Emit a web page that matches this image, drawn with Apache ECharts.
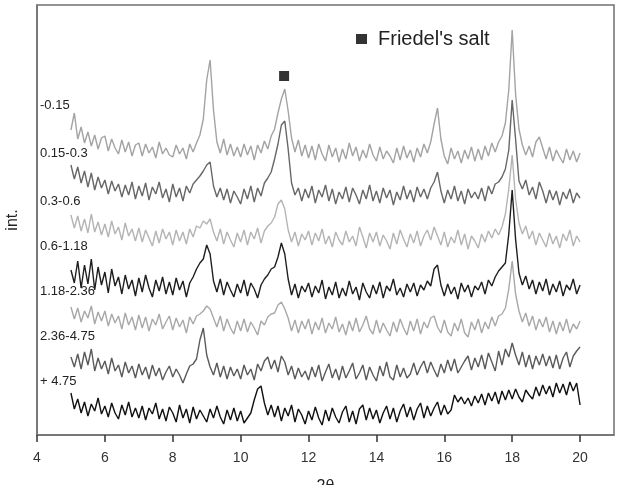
<!DOCTYPE html>
<html>
<head>
<meta charset="utf-8">
<script src="https://cdn.jsdelivr.net/npm/echarts@6/dist/echarts.min.js"></script>
<style>
  html, body { margin: 0; padding: 0; background: #fff; }
  #xrdContainer { width: 622px; height: 485px; }
</style>
</head>
<body>
<div id="xrdContainer"></div>
<script>
// 2θ grid of the scans: 5.0 .. 20.0, step 0.1
var thetaStart = 5.0;
var thetaStep = 0.1;

var sampleNames = ['-0.15', '0.15-0.3', '0.3-0.6', '0.6-1.18', '1.18-2.36', '2.36-4.75', '+ 4.75'];
var lineColors = ['#a3a3a3', '#676767', '#b4b4b4', '#1e1e1e', '#a8a8a8', '#5a5a5a', '#111111'];
var xTicks = [4, 6, 8, 10, 12, 14, 16, 18, 20];

// intensities, already offset (stacked) as in the figure
var scan_015 = [
  305, 322, 296, 308, 292, 303, 289, 300, 286, 297,
  299, 284, 296, 287, 281, 295, 283, 293, 279, 290,
  292, 279, 291, 282, 288, 277, 293, 281, 287, 280,
  278, 290, 281, 287, 276, 291, 283, 292, 300, 316,
  355, 375, 325, 293, 282, 296, 280, 291, 279, 288,
  278, 291, 280, 289, 275, 290, 282, 294, 286, 299,
  306, 322, 336, 346, 324, 297, 283, 295, 279, 290,
  277, 289, 275, 291, 281, 274, 290, 278, 287, 273,
  286, 276, 292, 279, 288, 274, 285, 277, 291, 280,
  274, 288, 276, 284, 279, 272, 287, 275, 289, 277,
  285, 273, 287, 278, 291, 282, 293, 311, 327, 296,
  279, 271, 287, 276, 284, 272, 285, 276, 288, 274,
  286, 275, 289, 279, 292, 283, 293, 299, 312, 345,
  405, 341, 306, 290, 280, 289, 278, 293, 298, 287,
  276, 288, 274, 285, 278, 272, 286, 275, 284, 273,
  282
];
var scan_015_03 = [
  270, 256, 268, 252, 264, 248, 262, 245, 258, 247,
  255, 241, 254, 244, 251, 238, 250, 240, 253, 236,
  249, 239, 252, 235, 248, 241, 253, 237, 246, 233,
  251, 238, 247, 234, 249, 242, 251, 255, 259, 264,
  270, 273, 249, 238, 247, 235, 246, 232, 244, 238,
  231, 246, 236, 249, 233, 247, 239, 252, 257, 263,
  276, 291, 310, 314, 286, 252, 240, 247, 234, 246,
  237, 249, 232, 245, 238, 250, 234, 246, 231, 243,
  236, 248, 233, 247, 240, 231, 245, 236, 250, 234,
  244, 232, 247, 237, 245, 230, 243, 235, 249, 236,
  245, 233, 248, 238, 246, 236, 247, 253, 263, 244,
  232, 245, 236, 249, 234, 244, 231, 246, 237, 243,
  236, 247, 234, 249, 241, 251, 253, 258, 266, 285,
  335, 296, 254, 246, 255, 240, 248, 236, 253, 244,
  232, 245, 235, 244, 230, 243, 236, 246, 232, 242,
  237
];
var scan_03_06 = [
  220, 207, 219, 204, 216, 202, 221, 203, 213, 200,
  211, 198, 214, 201, 208, 195, 212, 199, 206, 194,
  207, 193, 205, 197, 189, 204, 192, 206, 196, 203,
  190, 205, 194, 203, 191, 206, 198, 209, 207, 214,
  211, 216, 203, 194, 206, 191, 203, 195, 188, 202,
  193, 205, 190, 203, 196, 207, 192, 204, 209, 212,
  218, 231, 235, 226, 205, 193, 203, 189, 201, 195,
  204, 190, 202, 194, 206, 191, 199, 188, 203, 195,
  190, 204, 193, 199, 189, 208, 198, 187, 202, 193,
  203, 189, 200, 194, 186, 202, 191, 205, 196, 188,
  201, 192, 204, 189, 199, 205, 195, 208, 199, 190,
  203, 188, 198, 192, 205, 190, 201, 186, 199, 194,
  187, 201, 193, 204, 197, 206, 200, 208, 221, 246,
  280, 236, 212, 201, 209, 196, 204, 190, 202, 195,
  188, 202, 191, 199, 187, 201, 194, 205, 189, 199,
  193
];
var scan_06_118 = [
  165, 152, 174, 147, 170, 151, 176, 145, 168, 150,
  163, 142, 166, 149, 158, 141, 160, 146, 155, 139,
  157, 143, 160, 147, 138, 155, 144, 158, 141, 153,
  140, 157, 145, 154, 138, 152, 158, 166, 172, 176,
  190, 181, 154, 143, 156, 140, 153, 145, 138, 151,
  142, 155, 139, 152, 146, 137, 150, 156, 160, 166,
  168, 178, 192, 181, 156, 140, 151, 137, 149, 143,
  152, 138, 149, 142, 155, 136, 148, 140, 153, 137,
  147, 139, 154, 141, 148, 135, 152, 143, 137, 150,
  141, 153, 137, 149, 144, 156, 140, 147, 138, 151,
  143, 152, 139, 150, 145, 154, 149, 166, 170, 150,
  139, 151, 141, 148, 136, 152, 143, 150, 138, 149,
  145, 153, 141, 155, 149, 158, 164, 168, 172, 201,
  245, 196, 162, 150, 159, 146, 155, 141, 153, 144,
  156, 140, 151, 143, 154, 139, 150, 145, 156, 141,
  150
];
var scan_118_236 = [
  128, 116, 127, 113, 124, 117, 129, 111, 123, 114,
  124, 109, 121, 112, 119, 106, 122, 110, 118, 105,
  120, 107, 118, 104, 116, 110, 121, 106, 113, 119,
  105, 117, 108, 115, 102, 118, 111, 119, 121, 124,
  129, 126, 117, 108, 119, 104, 116, 107, 101, 114,
  104, 116, 103, 113, 107, 100, 114, 110, 118, 121,
  122, 130, 133, 126, 117, 104, 115, 102, 114, 106,
  116, 101, 113, 105, 117, 102, 112, 106, 118, 103,
  111, 100, 114, 104, 117, 103, 110, 119, 106, 101,
  115, 102, 112, 105, 99, 113, 103, 116, 107, 100,
  114, 104, 116, 101, 113, 107, 117, 119, 108, 102,
  115, 103, 99, 112, 104, 116, 102, 98, 113, 105,
  116, 102, 113, 106, 118, 109, 119, 121, 127, 146,
  174, 141, 124, 113, 122, 109, 119, 105, 116, 108,
  118, 103, 114, 101, 113, 104, 116, 102, 111, 106,
  114
];
var scan_236_475 = [
  78, 68, 81, 66, 83, 70, 86, 64, 77, 66,
  74, 61, 77, 64, 70, 58, 73, 62, 69, 57,
  71, 60, 68, 56, 70, 59, 67, 55, 63, 69,
  58, 66, 60, 52, 61, 69, 71, 76, 95, 107,
  80, 68, 60, 72, 58, 69, 56, 68, 59, 66,
  56, 70, 60, 66, 55, 71, 64, 74, 78, 66,
  75, 63, 79, 73, 60, 69, 56, 67, 58, 64,
  55, 68, 58, 70, 54, 63, 71, 57, 66, 55,
  69, 57, 64, 72, 56, 62, 70, 55, 68, 60,
  54, 69, 59, 73, 58, 55, 70, 58, 67, 57,
  61, 72, 60, 68, 74, 62, 73, 65, 58, 71,
  62, 75, 64, 76, 62, 68, 74, 79, 65, 77,
  68, 80, 66, 82, 73, 64, 84, 70, 86, 78,
  92, 80, 70, 83, 68, 80, 66, 79, 70, 81,
  69, 79, 67, 80, 66, 77, 83, 68, 79, 84,
  88
];
var scan_475 = [
  42, 26, 36, 22, 33, 19, 31, 24, 37, 21,
  29, 18, 32, 22, 16, 30, 20, 33, 18, 27,
  17, 29, 15, 27, 21, 32, 16, 26, 14, 28,
  22, 13, 30, 17, 26, 12, 28, 16, 25, 19,
  13, 26, 17, 29, 18, 11, 25, 15, 27, 14,
  24, 12, 17, 22, 35, 46, 49, 32, 20, 30,
  18, 29, 14, 27, 19, 30, 13, 26, 20, 11,
  24, 15, 28, 17, 10, 25, 14, 27, 18, 12,
  23, 29, 13, 24, 11, 26, 30, 15, 27, 16,
  25, 12, 22, 29, 16, 27, 13, 24, 31, 18,
  28, 15, 26, 32, 17, 29, 19, 27, 33, 20,
  30, 21, 25, 40, 33, 38, 31, 37, 29, 39,
  32, 41, 30, 42, 34, 43, 31, 44, 35, 45,
  36, 46, 38, 33, 45, 40, 36, 48, 39, 50,
  41, 49, 38, 52, 42, 51, 40, 53, 44, 52,
  30
];

// Friedel's salt reflection marker
var friedelMark = [[11.28, 359]];

var allScans = [scan_015, scan_015_03, scan_03_06, scan_06_118, scan_118_236, scan_236_475, scan_475];

function toPairs(arr) {
    var out = [];
    for (var i = 0; i < arr.length; i++) {
        out.push([+(thetaStart + i * thetaStep).toFixed(1), arr[i]]);
    }
    return out;
}

var xrdChart = echarts.init(document.getElementById('xrdContainer'), null, { renderer: 'canvas' });

var seriesList = [];
for (var s = 0; s < allScans.length; s++) {
    seriesList.push({
        name: sampleNames[s],
        type: 'line',
        data: toPairs(allScans[s]),
        showSymbol: false,
        symbol: 'none',
        lineStyle: { color: lineColors[s], width: 1.4 },
        z: 2 + s,
        silent: true
    });
}
seriesList.push({
    name: "Friedel's salt",
    type: 'scatter',
    data: friedelMark,
    symbol: 'rect',
    symbolSize: 10,
    itemStyle: { color: '#000' },
    z: 10
});

// sample labels at the left of each pattern (pixel y of label centre)
var labelY = [107, 155, 203, 248, 293, 338, 383];
var labelGraphics = [];
for (var k = 0; k < sampleNames.length; k++) {
    labelGraphics.push({
        type: 'text',
        left: 40,
        top: labelY[k] - 8,
        style: {
            text: sampleNames[k],
            fill: '#222',
            font: '13px "Liberation Sans", Arial, sans-serif'
        }
    });
}

var option = {
    animation: false,
    textStyle: { fontFamily: '"Liberation Sans", Arial, sans-serif' },
    grid: {
        left: 37, right: 8, top: 5, bottom: 50,
        outerBoundsMode: 'none',
        containLabel: false,
        show: true,
        borderColor: '#707070',
        borderWidth: 1.5
    },
    legend: {
        data: ["Friedel's salt"],
        left: 351,
        top: 24,
        itemWidth: 11,
        itemHeight: 10,
        icon: 'rect',
        textStyle: { fontSize: 20, color: '#222', padding: [0, 0, 0, 6] }
    },
    xAxis: {
        type: 'value',
        min: 4,
        max: 21,
        interval: 2,
        name: '2θ',
        nameLocation: 'middle',
        nameGap: 44,
        nameTextStyle: { fontSize: 16, color: '#222' },
        axisLine: { show: true, lineStyle: { color: '#707070', width: 1.5 } },
        axisTick: { show: true, length: 7, customValues: xTicks, lineStyle: { color: '#333', width: 1.5 } },
        axisLabel: {
            fontSize: 14,
            color: '#333',
            margin: 16,
            customValues: xTicks,
            formatter: function (v) { return v > 20 ? '' : String(v); }
        },
        splitLine: { show: false }
    },
    yAxis: {
        type: 'value',
        min: 0,
        max: 430,
        name: 'int.',
        nameLocation: 'middle',
        nameGap: 16,
        nameRotate: 90,
        nameTextStyle: { fontSize: 16, color: '#222' },
        axisLine: { show: true, lineStyle: { color: '#707070', width: 1.5 } },
        axisTick: { show: false },
        axisLabel: { show: false },
        splitLine: { show: false }
    },
    graphic: labelGraphics,
    series: seriesList
};

xrdChart.setOption(option);
window.addEventListener('resize', xrdChart.resize);
</script>
</body>
</html>
